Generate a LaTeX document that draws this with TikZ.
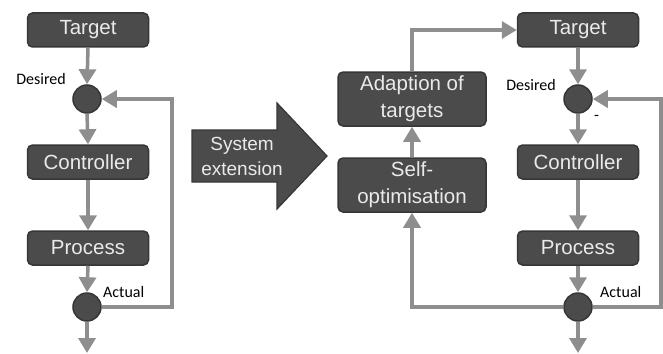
\documentclass[tikz,border=0pt]{standalone}
\usepackage{fontspec}
\setmainfont{Liberation Sans}
\newfontfamily\lblfont{Carlito}
\usetikzlibrary{arrows.meta}
\definecolor{boxfill}{HTML}{4B4B4B}
\definecolor{boxline}{HTML}{363636}
\definecolor{conncol}{HTML}{8E8E8E}
\definecolor{boxtext}{HTML}{EAEAEA}
\tikzset{
  blk/.style={draw=boxline, fill=boxfill, line width=1.5pt, rounded corners=5pt,
    minimum width=121pt, minimum height=34pt, inner sep=0pt, text=boxtext,
    font=\fontsize{20.5}{27}\selectfont, align=center},
  bigblk/.style={blk, minimum width=148pt, minimum height=54pt},
  junc/.style={draw=boxline, fill=boxfill, line width=1.5pt, circle, minimum size=28pt, inner sep=0pt},
  conn/.style={draw=conncol, line width=3.5pt, -{Triangle[width=17pt,length=15pt]}},
  lbl/.style={font=\lblfont\fontsize{16}{18}\selectfont, text=black, inner sep=0pt}
}
\begin{document}
\begin{tikzpicture}[x=1pt,y=-1pt]
\useasboundingbox (0,0) rectangle (663,353);
% left loop
\node[blk] (tL) at (88,30) {Target};
\node[junc] (c1L) at (87,99) {};
\node[blk] (ctL) at (88,162) {Controller};
\node[blk] (prL) at (88,248) {Process};
\node[junc] (c2L) at (87,307) {};
\coordinate (fbL) at (172,307);
\coordinate (endL) at (87,353);
\node[lbl, anchor=east] (desL) at (66,79) {Desired};
\node[lbl, anchor=west] (actL) at (103,292) {Actual};
\draw[conn] (tL.south) -- (c1L.north);
\draw[conn] (c1L.south) -- (ctL.north);
\draw[conn] (ctL.south) -- (prL.north);
\draw[conn] (prL.south) -- (c2L.north);
\draw[conn] (c2L.south) -- (endL);
\draw[conn] (c2L.east) -- (fbL) |- (c1L.east);
% big arrow
\draw[draw=boxline, fill=boxfill, line width=1.2pt, line join=miter]
  (192,130) -- (277,130) -- (277,103) -- (327,156) -- (277,209) -- (277,182) -- (192,182) -- cycle;
\node[text=boxtext, font=\fontsize{19}{25}\selectfont, align=center] (ext) at (242,156) {System\\extension};
% right loop
\node[blk] (tR) at (578,30) {Target};
\node[junc] (c1R) at (578,99) {};
\node[blk] (ctR) at (578,162) {Controller};
\node[blk] (prR) at (578,248) {Process};
\node[junc] (c2R) at (578,307) {};
\coordinate (fbR) at (661,307);
\coordinate (endR) at (578,353);
\node[lbl, anchor=east] (desR) at (556,85) {Desired};
\node[lbl, anchor=west] (actR) at (600,292) {Actual};
\node[lbl, anchor=west] (minus) at (594,118) {-};
\node[bigblk] (adapt) at (412,99) {Adaption of\\targets};
\node[bigblk] (self) at (412,185) {Self-\\optimisation};
\draw[conn] (tR.south) -- (c1R.north);
\draw[conn] (c1R.south) -- (ctR.north);
\draw[conn] (ctR.south) -- (prR.north);
\draw[conn] (prR.south) -- (c2R.north);
\draw[conn] (c2R.south) -- (endR);
\draw[conn] (c2R.east) -- (fbR) |- (c1R.east);
\draw[conn] (c2R.west) -| (self.south);
\draw[conn] (self.north) -- (adapt.south);
\draw[conn] (adapt.north) |- (tR.west);
\end{tikzpicture}
\end{document}
